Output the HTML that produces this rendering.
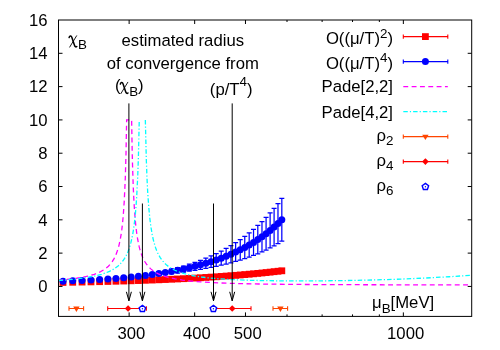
<!DOCTYPE html>
<html><head><meta charset="utf-8"><title>chart</title>
<style>
html,body{margin:0;padding:0;background:#fff;}
body{width:500px;height:350px;overflow:hidden;font-family:"Liberation Sans",sans-serif;}
svg{display:block;will-change:transform;}
svg text{font-family:"Liberation Sans",sans-serif;font-size:16.7px;fill:#000;}
</style></head><body>
<svg width="500" height="350" viewBox="0 0 500 350">
<g fill="#ff0000"><rect x="59.61" y="279.03" width="6.8" height="6.8"/><rect x="69.33" y="278.86" width="6.8" height="6.8"/><rect x="78.66" y="278.67" width="6.8" height="6.8"/><rect x="87.61" y="278.48" width="6.8" height="6.8"/><rect x="96.23" y="278.28" width="6.8" height="6.8"/><rect x="104.53" y="278.07" width="6.8" height="6.8"/><rect x="112.55" y="277.85" width="6.8" height="6.8"/><rect x="120.29" y="277.63" width="6.8" height="6.8"/><rect x="127.77" y="277.4" width="6.8" height="6.8"/><rect x="135.02" y="277.16" width="6.8" height="6.8"/><rect x="142.04" y="276.91" width="6.8" height="6.8"/><rect x="148.85" y="276.66" width="6.8" height="6.8"/><rect x="155.47" y="276.4" width="6.8" height="6.8"/><rect x="161.9" y="276.13" width="6.8" height="6.8"/><rect x="168.15" y="275.85" width="6.8" height="6.8"/><rect x="174.24" y="275.57" width="6.8" height="6.8"/><rect x="180.16" y="275.28" width="6.8" height="6.8"/><rect x="185.94" y="274.98" width="6.8" height="6.8"/><rect x="191.57" y="274.67" width="6.8" height="6.8"/><rect x="197.07" y="274.36" width="6.8" height="6.8"/><rect x="202.44" y="274.03" width="6.8" height="6.8"/><rect x="207.68" y="273.7" width="6.8" height="6.8"/><rect x="212.81" y="273.37" width="6.8" height="6.8"/><rect x="217.82" y="273.02" width="6.8" height="6.8"/><rect x="222.73" y="272.67" width="6.8" height="6.8"/><rect x="227.53" y="272.31" width="6.8" height="6.8"/><rect x="232.23" y="271.94" width="6.8" height="6.8"/><rect x="236.84" y="271.57" width="6.8" height="6.8"/><rect x="241.36" y="271.18" width="6.8" height="6.8"/><rect x="245.78" y="270.79" width="6.8" height="6.8"/><rect x="250.13" y="270.4" width="6.8" height="6.8"/><rect x="254.39" y="269.99" width="6.8" height="6.8"/><rect x="258.58" y="269.58" width="6.8" height="6.8"/><rect x="262.68" y="269.16" width="6.8" height="6.8"/><rect x="266.72" y="268.73" width="6.8" height="6.8"/><rect x="270.69" y="268.29" width="6.8" height="6.8"/><rect x="274.58" y="267.85" width="6.8" height="6.8"/><rect x="278.42" y="267.4" width="6.8" height="6.8"/></g>
<path d="M63.01,280.81 V281.5 M60.51,280.81 h5 M60.51,281.5 h5 M72.73,280.57 V281.11 M70.23,280.57 h5 M70.23,281.11 h5 M82.06,280.24 V280.7 M79.56,280.24 h5 M79.56,280.7 h5 M91.01,279.83 V280.25 M88.51,279.83 h5 M88.51,280.25 h5 M99.63,279.32 V279.78 M97.13,279.32 h5 M97.13,279.78 h5 M107.93,278.73 V279.28 M105.43,278.73 h5 M105.43,279.28 h5 M115.95,278.04 V278.75 M113.45,278.04 h5 M113.45,278.75 h5 M123.69,277.27 V278.2 M121.19,277.27 h5 M121.19,278.2 h5 M131.17,276.4 V277.63 M128.67,276.4 h5 M128.67,277.63 h5 M138.42,275.44 V277.03 M135.92,275.44 h5 M135.92,277.03 h5 M145.44,274.39 V276.4 M142.94,274.39 h5 M142.94,276.4 h5 M152.25,273.24 V275.74 M149.75,273.24 h5 M149.75,275.74 h5 M158.87,272 V275.06 M156.37,272 h5 M156.37,275.06 h5 M165.3,270.66 V274.35 M162.8,270.66 h5 M162.8,274.35 h5 M171.55,269.21 V273.61 M169.05,269.21 h5 M169.05,273.61 h5 M177.64,267.66 V272.84 M175.14,267.66 h5 M175.14,272.84 h5 M183.56,266 V272.03 M181.06,266 h5 M181.06,272.03 h5 M189.34,264.23 V271.19 M186.84,264.23 h5 M186.84,271.19 h5 M194.97,262.35 V270.3 M192.47,262.35 h5 M192.47,270.3 h5 M200.47,260.35 V269.38 M197.97,260.35 h5 M197.97,269.38 h5 M205.84,258.23 V268.42 M203.34,258.23 h5 M203.34,268.42 h5 M211.08,255.98 V267.4 M208.58,255.98 h5 M208.58,267.4 h5 M216.21,253.61 V266.34 M213.71,253.61 h5 M213.71,266.34 h5 M221.22,251.1 V265.22 M218.72,251.1 h5 M218.72,265.22 h5 M226.13,248.44 V264.04 M223.63,248.44 h5 M223.63,264.04 h5 M230.93,245.65 V262.8 M228.43,245.65 h5 M228.43,262.8 h5 M235.63,242.7 V261.49 M233.13,242.7 h5 M233.13,261.49 h5 M240.24,239.59 V260.11 M237.74,239.59 h5 M237.74,260.11 h5 M244.76,236.33 V258.65 M242.26,236.33 h5 M242.26,258.65 h5 M249.18,232.89 V257.11 M246.68,232.89 h5 M246.68,257.11 h5 M253.53,229.28 V255.48 M251.03,229.28 h5 M251.03,255.48 h5 M257.79,225.49 V253.76 M255.29,225.49 h5 M255.29,253.76 h5 M261.98,221.5 V251.94 M259.48,221.5 h5 M259.48,251.94 h5 M266.08,217.33 V250.01 M263.58,217.33 h5 M263.58,250.01 h5 M270.12,212.94 V247.97 M267.62,212.94 h5 M267.62,247.97 h5 M274.09,208.35 V245.8 M271.59,208.35 h5 M271.59,245.8 h5 M277.98,203.53 V243.52 M275.48,203.53 h5 M275.48,243.52 h5 M281.82,198.49 V241.09 M279.32,198.49 h5 M279.32,241.09 h5" fill="none" stroke="#0000ff" stroke-width="1.25"/>
<g fill="#0000ff"><circle cx="63.01" cy="281.15" r="3.5"/><circle cx="72.73" cy="280.84" r="3.5"/><circle cx="82.06" cy="280.47" r="3.5"/><circle cx="91.01" cy="280.04" r="3.5"/><circle cx="99.63" cy="279.55" r="3.5"/><circle cx="107.93" cy="279" r="3.5"/><circle cx="115.95" cy="278.4" r="3.5"/><circle cx="123.69" cy="277.74" r="3.5"/><circle cx="131.17" cy="277.02" r="3.5"/><circle cx="138.42" cy="276.24" r="3.5"/><circle cx="145.44" cy="275.4" r="3.5"/><circle cx="152.25" cy="274.49" r="3.5"/><circle cx="158.87" cy="273.53" r="3.5"/><circle cx="165.3" cy="272.5" r="3.5"/><circle cx="171.55" cy="271.41" r="3.5"/><circle cx="177.64" cy="270.25" r="3.5"/><circle cx="183.56" cy="269.02" r="3.5"/><circle cx="189.34" cy="267.71" r="3.5"/><circle cx="194.97" cy="266.33" r="3.5"/><circle cx="200.47" cy="264.87" r="3.5"/><circle cx="205.84" cy="263.32" r="3.5"/><circle cx="211.08" cy="261.69" r="3.5"/><circle cx="216.21" cy="259.97" r="3.5"/><circle cx="221.22" cy="258.16" r="3.5"/><circle cx="226.13" cy="256.24" r="3.5"/><circle cx="230.93" cy="254.22" r="3.5"/><circle cx="235.63" cy="252.09" r="3.5"/><circle cx="240.24" cy="249.85" r="3.5"/><circle cx="244.76" cy="247.49" r="3.5"/><circle cx="249.18" cy="245" r="3.5"/><circle cx="253.53" cy="242.38" r="3.5"/><circle cx="257.79" cy="239.62" r="3.5"/><circle cx="261.98" cy="236.72" r="3.5"/><circle cx="266.08" cy="233.67" r="3.5"/><circle cx="270.12" cy="230.45" r="3.5"/><circle cx="274.09" cy="227.08" r="3.5"/><circle cx="277.98" cy="223.52" r="3.5"/><circle cx="281.82" cy="219.79" r="3.5"/></g>
<path d="M58.5,280.24 L65.04,279.66 L71.24,278.98 L76.75,278.24 L81.91,277.38 L86.39,276.47 L90.52,275.44 L94.31,274.28 L97.75,272.98 L100.85,271.53 L103.61,269.95 L106.02,268.26 L108.43,266.17 L110.49,263.95 L112.22,261.68 L113.94,258.9 L115.31,256.18 L116.69,252.85 L118.07,248.69 L119.1,244.83 L120.14,240.07 L121.17,234.08 L121.86,229.14 L122.55,223.18 L123.23,215.81 L124.27,200.87 L125.3,177.88 L125.99,154.18 L126.64,119.91 L131.62,119.91 L132.19,151.38 L132.53,165.28 L133.22,186.02 L133.91,200.78 L134.6,211.81 L135.63,223.97 L136.66,232.79 L137.7,239.48 L139.07,246.23 L139.76,248.95 L140.8,252.42 L141.83,255.33 L142.86,257.8 L143.89,259.92 L144.93,261.77 L146.31,263.88 L147.68,265.68 L149.06,267.22 L150.78,268.88 L152.5,270.29 L154.22,271.5 L156.29,272.75 L158.36,273.83 L160.77,274.9 L163.18,275.81 L165.93,276.71 L168.69,277.48 L175.23,278.92 L182.46,280.08 L191.07,281.09 L201.05,281.94 L212.76,282.64 L226.19,283.21 L241.34,283.66 L258.9,284.01 L304.01,284.5 L368.4,284.76 L471.7,284.88" fill="none" stroke="#ff00ff" stroke-width="1.3" stroke-dasharray="4.9,3.43"/>
<path d="M58.5,280.49 L66.76,279.86 L74,279.18 L80.54,278.42 L86.74,277.54 L92.24,276.56 L97.07,275.51 L101.54,274.3 L105.67,272.92 L109.46,271.35 L112.56,269.77 L115.31,268.05 L118.07,265.94 L120.48,263.66 L122.55,261.25 L124.61,258.28 L126.33,255.22 L128.06,251.41 L129.43,247.63 L130.81,242.93 L131.84,238.6 L132.88,233.31 L133.56,229.09 L134.6,221.33 L135.29,214.88 L135.97,207.01 L136.66,197.22 L137.7,176.99 L138.39,157.52 L139.26,119.91M145.34,119.91 L146.31,159.47 L146.99,177.92 L147.68,191.68 L148.72,206.81 L149.75,217.76 L150.78,226.04 L152.16,234.4 L152.85,237.76 L153.88,242.05 L155.6,247.73 L156.63,250.48 L157.67,252.86 L158.7,254.94 L160.08,257.33 L161.46,259.38 L162.83,261.15 L164.55,263.06 L166.28,264.69 L168.34,266.36 L170.41,267.79 L172.47,269.01 L174.88,270.24 L177.64,271.44 L180.74,272.57 L184.18,273.63 L187.97,274.61 L192.1,275.49 L196.58,276.29 L201.4,277.01 L206.56,277.65 L218.27,278.74 L232.39,279.63 L248.57,280.27 L267.17,280.7 L291.61,280.94 L318.47,280.89 L346.71,280.55 L374.6,279.95 L400.77,279.11 L425.9,278.03 L449.32,276.74 L471.7,275.2" fill="none" stroke="#00ffff" stroke-width="1.3" stroke-dasharray="4.5,2.05,1.2,2.05"/>
<path d="M69,308.5 H83.6 M69,306.3 v4.4 M83.6,306.3 v4.4" fill="none" stroke="#ff4500" stroke-width="1.1"/>
<path d="M73.2,306.6 L79.6,306.6 L76.4,311.9 Z" fill="#ff4500"/>
<path d="M273,308.5 H287.6 M273,306.3 v4.4 M287.6,306.3 v4.4" fill="none" stroke="#ff4500" stroke-width="1.1"/>
<path d="M277.2,306.6 L283.6,306.6 L280.4,311.9 Z" fill="#ff4500"/>
<path d="M107.7,308.5 H146.4 M107.7,306.3 v4.4 M146.4,306.3 v4.4" fill="none" stroke="#ff0000" stroke-width="1.1"/>
<path d="M124.8,308.5 L128.1,305.2 L131.4,308.5 L128.1,311.8 Z" fill="#ff0000"/>
<path d="M213.4,308.5 H251 M213.4,306.3 v4.4 M251,306.3 v4.4" fill="none" stroke="#ff0000" stroke-width="1.1"/>
<path d="M228.9,308.5 L232.2,305.2 L235.5,308.5 L232.2,311.8 Z" fill="#ff0000"/>
<path d="M142.4,305.3 L145.63,307.65 L144.4,311.45 L140.4,311.45 L139.17,307.65 Z" fill="#fff" stroke="#0000ff" stroke-width="1.4"/><circle cx="142.4" cy="308.7" r="0.7" fill="#0000ff"/>
<path d="M213.4,305.3 L216.63,307.65 L215.4,311.45 L211.4,311.45 L210.17,307.65 Z" fill="#fff" stroke="#0000ff" stroke-width="1.4"/><circle cx="213.4" cy="308.7" r="0.7" fill="#0000ff"/>
<path d="M128.9,103.4 V300.8 M126.4,291.8 L128.9,300.8 L131.4,291.8" fill="none" stroke="#000" stroke-width="1"/>
<path d="M142.4,203.5 V300.8 M139.9,291.8 L142.4,300.8 L144.9,291.8" fill="none" stroke="#000" stroke-width="1"/>
<path d="M213.5,203.5 V300.8 M211,291.8 L213.5,300.8 L216,291.8" fill="none" stroke="#000" stroke-width="1"/>
<path d="M232.2,103.4 V300.8 M229.7,291.8 L232.2,300.8 L234.7,291.8" fill="none" stroke="#000" stroke-width="1"/>
<rect x="58.5" y="20" width="413.2" height="296.4" fill="none" stroke="#000" stroke-width="1"/>
<path d="M58.5,286.43 h4 M471.7,286.43 h-4 M58.5,253.12 h4 M471.7,253.12 h-4 M58.5,219.82 h4 M471.7,219.82 h-4 M58.5,186.52 h4 M471.7,186.52 h-4 M58.5,153.21 h4 M471.7,153.21 h-4 M58.5,119.91 h4 M471.7,119.91 h-4 M58.5,86.61 h4 M471.7,86.61 h-4 M58.5,53.3 h4 M471.7,53.3 h-4 M129.14,316.4 v-4 M129.14,20 v4 M194.66,316.4 v-4 M194.66,20 v4 M245.48,316.4 v-4 M245.48,20 v4 M403.35,316.4 v-4 M403.35,20 v4 M287.01,316.4 v-2 M287.01,20 v2 M322.12,316.4 v-2 M322.12,20 v2 M352.53,316.4 v-2 M352.53,20 v2 M379.35,316.4 v-2 M379.35,20 v2" fill="none" stroke="#000" stroke-width="1"/>
<text x="47.5" y="292.13" text-anchor="end">0</text>
<text x="47.5" y="258.82" text-anchor="end">2</text>
<text x="47.5" y="225.52" text-anchor="end">4</text>
<text x="47.5" y="192.22" text-anchor="end">6</text>
<text x="47.5" y="158.91" text-anchor="end">8</text>
<text x="47.5" y="125.61" text-anchor="end">10</text>
<text x="47.5" y="92.31" text-anchor="end">12</text>
<text x="47.5" y="59" text-anchor="end">14</text>
<text x="47.5" y="25.7" text-anchor="end">16</text>
<text x="131.44" y="338.5" text-anchor="middle">300</text>
<text x="196.96" y="338.5" text-anchor="middle">400</text>
<text x="247.78" y="338.5" text-anchor="middle">500</text>
<text x="405.65" y="338.5" text-anchor="middle">1000</text>
<text x="182.8" y="46.2" text-anchor="middle">estimated radius</text>
<text x="182.8" y="69.2" text-anchor="middle">of convergence from</text>
<text x="115" y="90.6">(</text>
<g transform="translate(119.9,90.6)" fill="none" stroke="#000" stroke-linecap="round"><path d="M7.9,-8.3 L1,3" stroke-width="0.9"/><path d="M0.4,-6.5 C0.7,-8.2 2.5,-8.9 3.2,-6.7 L5.6,0.6 C6.2,2.5 7,3.3 8.1,2.4" stroke-width="1.5"/></g>
<text x="129.3" y="96" style="font-size:13.4px">B</text>
<text x="138" y="90.6">)</text>
<text x="231.2" y="94.7" text-anchor="middle">(p/T<tspan font-size="13.4" dy="-8.4">4</tspan><tspan dy="8.4">)</tspan></text>
<g transform="translate(68.7,44.1)" fill="none" stroke="#000" stroke-linecap="round"><path d="M7.9,-8.3 L1,3" stroke-width="0.9"/><path d="M0.4,-6.5 C0.7,-8.2 2.5,-8.9 3.2,-6.7 L5.6,0.6 C6.2,2.5 7,3.3 8.1,2.4" stroke-width="1.5"/></g>
<text x="77.9" y="48.8" style="font-size:13.4px">B</text>
<text x="372" y="307.9">μ<tspan font-size="13.4" dy="4.6">B</tspan><tspan dy="-4.6">[MeV]</tspan></text>
<text x="393" y="44.2" text-anchor="end">O((μ/T)<tspan font-size="13.4" dy="-6.6">2</tspan><tspan dy="6.6">)</tspan></text>
<text x="393" y="68.8" text-anchor="end">O((μ/T)<tspan font-size="13.4" dy="-6.6">4</tspan><tspan dy="6.6">)</tspan></text>
<text x="393" y="92.4" text-anchor="end">Pade[2,2]</text>
<text x="393" y="117.7" text-anchor="end">Pade[4,2]</text>
<text x="393.5" y="140.8" text-anchor="end">ρ<tspan font-size="13.4" dy="4.4">2</tspan></text>
<text x="393.5" y="165.8" text-anchor="end">ρ<tspan font-size="13.4" dy="4.4">4</tspan></text>
<text x="393.5" y="190.8" text-anchor="end">ρ<tspan font-size="13.4" dy="4.4">6</tspan></text>
<path d="M403.3,36.6 H447.8 M403.3,34.4 v4.4 M447.8,34.4 v4.4" fill="none" stroke="#ff0000" stroke-width="1.1"/>
<rect x="422" y="33.2" width="6.8" height="6.8" fill="#ff0000"/>
<path d="M403.3,61.6 H447.8 M403.3,59.4 v4.4 M447.8,59.4 v4.4" fill="none" stroke="#0000ff" stroke-width="1.1"/>
<circle cx="425.4" cy="61.6" r="3.5" fill="#0000ff"/>
<path d="M403.3,86.6 H447.8" stroke="#ff00ff" stroke-width="1.2" stroke-dasharray="4.9,3.43" fill="none"/>
<path d="M403.3,111.6 H447.8" stroke="#00ffff" stroke-width="1.2" stroke-dasharray="4.5,2.05,1.2,2.05" fill="none"/>
<path d="M403.3,136.6 H447.8 M403.3,134.4 v4.4 M447.8,134.4 v4.4" fill="none" stroke="#ff4500" stroke-width="1.1"/>
<path d="M422.2,134.7 L428.6,134.7 L425.4,140 Z" fill="#ff4500"/>
<path d="M403.3,161.6 H447.8 M403.3,159.4 v4.4 M447.8,159.4 v4.4" fill="none" stroke="#ff0000" stroke-width="1.1"/>
<path d="M422.1,161.6 L425.4,158.3 L428.7,161.6 L425.4,164.9 Z" fill="#ff0000"/>
<path d="M425.4,183.4 L428.63,185.75 L427.4,189.55 L423.4,189.55 L422.17,185.75 Z" fill="#fff" stroke="#0000ff" stroke-width="1.4"/><circle cx="425.4" cy="186.8" r="0.7" fill="#0000ff"/>
</svg>
</body></html>
